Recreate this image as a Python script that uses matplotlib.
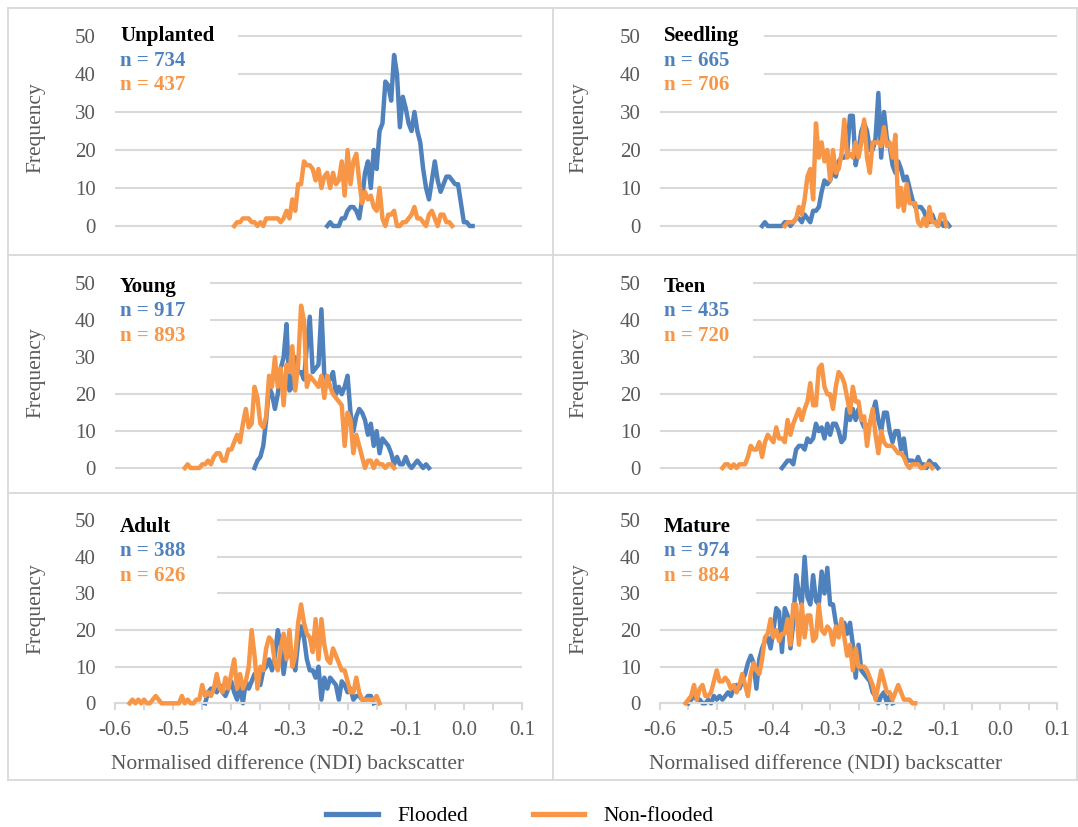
import numpy as np
import matplotlib
matplotlib.use('Agg')
import matplotlib.pyplot as plt
from matplotlib.lines import Line2D
from matplotlib.patches import Rectangle

plt.rcParams['font.family'] = ['Liberation Serif', 'DejaVu Serif']

# histogram counts of NDI backscatter, bin width 0.005, one list per class/series
bin_width = 0.005

unplanted_fl_start = -0.235
unplanted_fl = [0, 1, 0, 0, 0, 2, 2, 4, 5, 5, 4, 2, 7, 14, 17, 10, 20, 15, 25, 27,
                38, 37, 33, 45, 40, 26, 34, 31, 27, 25, 30, 25, 22, 15, 10, 7, 12, 17, 12, 9,
                11, 13, 13, 12, 11, 11, 6, 1, 1, 0, 0]
unplanted_nf_start = -0.395
unplanted_nf = [0, 1, 1, 2, 2, 2, 1, 1, 0, 1, 0, 2, 2, 2, 2, 2, 1, 2, 4, 2,
                7, 4, 11, 11, 17, 16, 16, 15, 12, 15, 10, 13, 14, 10, 14, 11, 12, 17, 8, 20,
                11, 17, 19, 12, 6, 9, 7, 8, 5, 4, 10, 2, 0, 3, 3, 4, 0, 0, 1, 1,
                2, 3, 5, 2, 2, 1, 0, 3, 4, 2, 0, 3, 3, 1, 1, 0]

seedling_fl_start = -0.42
seedling_fl = [0, 1, 0, 0, 0, 0, 0, 0, 1, 1, 0, 1, 2, 2, 1, 3, 2, 1, 4, 4,
               5, 9, 12, 11, 12, 15, 13, 17, 18, 18, 19, 29, 29, 16, 20, 25, 27, 25, 20, 20,
               23, 35, 18, 30, 23, 21, 16, 14, 17, 15, 12, 13, 10, 7, 5, 5, 5, 4, 2, 1,
               3, 1, 0, 1, 0, 1, 0]
seedling_nf_start = -0.38
seedling_nf = [0, 1, 1, 1, 2, 5, 3, 7, 13, 15, 7, 27, 18, 22, 17, 20, 12, 20, 14, 15,
               19, 28, 18, 19, 18, 22, 18, 22, 28, 18, 14, 22, 22, 22, 21, 26, 21, 22, 18, 24,
               5, 10, 4, 11, 6, 6, 6, 1, 0, 2, 0, 5, 1, 1, 0, 3, 3, 0]

young_fl_start = -0.36
young_fl = [0, 2, 3, 6, 13, 22, 20, 16, 20, 27, 30, 39, 21, 22, 30, 26, 26, 24, 33, 41,
            26, 27, 28, 43, 25, 24, 24, 26, 20, 22, 20, 22, 25, 15, 10, 14, 16, 15, 13, 9,
            12, 6, 10, 4, 8, 7, 6, 4, 1, 3, 1, 1, 3, 1, 0, 1, 2, 1, 0, 1, 0]
young_nf_start = -0.48
young_nf = [0, 1, 0, 0, 0, 0, 1, 1, 2, 1, 3, 4, 4, 2, 2, 5, 5, 7, 9, 7,
            12, 16, 11, 12, 22, 19, 12, 11, 14, 25, 22, 30, 22, 27, 17, 28, 26, 33, 21, 28,
            44, 40, 22, 25, 24, 23, 22, 25, 19, 25, 22, 20, 19, 18, 17, 6, 15, 13, 4, 9,
            6, 3, 0, 2, 2, 0, 2, 1, 1, 0, 1, 1, 0]

teen_fl_start = -0.385
teen_fl = [0, 1, 2, 2, 1, 5, 6, 6, 5, 8, 7, 8, 12, 10, 11, 8, 12, 9, 12, 12,
           10, 7, 8, 16, 13, 16, 13, 16, 13, 11, 11, 12, 15, 18, 13, 10, 15, 15, 10, 7,
           10, 10, 5, 8, 2, 2, 2, 1, 3, 1, 1, 0, 2, 1, 1, 0]
teen_nf_start = -0.49
teen_nf = [0, 1, 1, 0, 1, 0, 1, 1, 1, 3, 6, 5, 5, 7, 3, 7, 9, 8, 7, 11,
           8, 8, 7, 13, 9, 12, 14, 16, 13, 16, 18, 23, 17, 17, 27, 28, 22, 20, 20, 16,
           22, 26, 25, 23, 19, 15, 22, 18, 18, 13, 14, 6, 12, 16, 9, 4, 10, 7, 6, 6,
           6, 5, 4, 4, 3, 1, 0, 1, 1, 1, 0, 0, 1, 1, 0]

adult_fl_start = -0.445
adult_fl = [0, 3, 4, 4, 3, 5, 3, 2, 4, 6, 3, 1, 5, 0, 6, 4, 6, 8, 7, 5,
            9, 10, 12, 9, 13, 20, 16, 8, 14, 13, 13, 9, 17, 21, 18, 12, 9, 9, 7, 10,
            1, 7, 4, 7, 6, 5, 1, 6, 5, 3, 4, 1, 2, 2, 1, 1, 2, 2, 0]
adult_nf_start = -0.575
adult_nf = [0, 1, 0, 1, 0, 1, 0, 0, 1, 2, 1, 0, 0, 0, 0, 0, 0, 0, 2, 0,
            1, 0, 0, 1, 1, 5, 2, 3, 2, 4, 8, 4, 3, 7, 4, 8, 12, 4, 8, 4,
            6, 10, 20, 13, 4, 10, 9, 15, 18, 17, 11, 9, 15, 19, 12, 20, 10, 13, 22, 27,
            22, 19, 18, 14, 23, 12, 23, 16, 12, 11, 15, 13, 11, 9, 9, 6, 3, 3, 7, 3,
            1, 1, 1, 1, 1, 2, 0]

mature_fl_start = -0.55
mature_fl = [0, 1, 2, 1, 1, 0, 0, 1, 0, 2, 1, 2, 1, 2, 3, 2, 4, 5, 4, 6,
             8, 11, 13, 11, 4, 12, 15, 17, 18, 15, 20, 26, 25, 14, 26, 24, 15, 22, 35, 30,
             27, 40, 29, 27, 35, 28, 27, 36, 30, 37, 27, 27, 22, 19, 20, 22, 19, 22, 16, 7,
             16, 9, 8, 7, 6, 3, 2, 0, 2, 3, 0, 2, 0]
mature_nf_start = -0.555
mature_nf = [0, 1, 2, 5, 1, 4, 5, 2, 2, 3, 6, 9, 6, 6, 7, 6, 4, 5, 3, 5,
             8, 5, 2, 8, 11, 9, 8, 12, 18, 19, 23, 18, 20, 17, 19, 19, 23, 16, 27, 27,
             16, 27, 18, 24, 24, 17, 18, 27, 20, 19, 21, 20, 16, 21, 18, 23, 18, 13, 16, 9,
             15, 10, 10, 10, 9, 7, 5, 1, 5, 9, 6, 3, 3, 1, 3, 5, 3, 1, 1, 1, 0, 0]

panel_names = ['Unplanted', 'Seedling', 'Young', 'Teen', 'Adult', 'Mature']
n_flooded = [734, 665, 917, 435, 388, 974]
n_nonflooded = [437, 706, 893, 720, 626, 884]
flooded_series = [(unplanted_fl_start, unplanted_fl), (seedling_fl_start, seedling_fl),
                  (young_fl_start, young_fl), (teen_fl_start, teen_fl),
                  (adult_fl_start, adult_fl), (mature_fl_start, mature_fl)]
nonflooded_series = [(unplanted_nf_start, unplanted_nf), (seedling_nf_start, seedling_nf),
                     (young_nf_start, young_nf), (teen_nf_start, teen_nf),
                     (adult_nf_start, adult_nf), (mature_nf_start, mature_nf)]

BLUE = '#4F81BD'
ORANGE = '#F79646'
GRID = '#D9D9D9'
TXT = '#595959'
LW = 3.2

W, H = 1078, 827
fig = plt.figure(figsize=(W / 100, H / 100), dpi=100)

def px_rect(left, top, right, bottom):
    return [left / W, 1 - bottom / H, (right - left) / W, (bottom - top) / H]

# pixel rows of the 0 and 50 gridlines, and pixel columns of x = -0.6 / 0.1
row_px = [(226, 36), (468, 283.5), (703.3, 520.3)]
col_px = [(115, 522), (660, 1057)]
ylo, yhi = -1.5, 52
# per-panel white box behind the labels: right edge (data x), bottom (data y)
label_box = [(-0.388, 33), (-0.417, 33), (-0.437, 25), (-0.436, 25), (-0.424, 25), (-0.43, 25)]
# vertical offsets (px) of the label block for each row
row_dy = [0, -3.5, -6.7]
col_dx = [5, 4]

for i, name in enumerate(panel_names):
    r, c = divmod(i, 2)
    y0, y50 = row_px[r]
    unit = (y0 - y50) / 50
    x0, x1 = col_px[c]
    ax = fig.add_axes(px_rect(x0, y50 - (yhi - 50) * unit, x1, y0 - ylo * unit))
    ax.set_xlim(-0.6, 0.1)
    ax.set_ylim(ylo, yhi)
    ax.set_axisbelow(True)
    ax.set_yticks(np.arange(0, 51, 10))
    ax.yaxis.grid(True, color=GRID, lw=1.5)
    for s in ax.spines.values():
        s.set_visible(False)
    ax.tick_params(axis='y', length=0, pad=14, labelsize=15, labelcolor=TXT)

    fs, fv = flooded_series[i]
    ns, nv = nonflooded_series[i]
    ax.plot(fs + bin_width * np.arange(len(fv)), fv, color=BLUE, lw=LW, zorder=2,
            solid_joinstyle='round')
    ax.plot(ns + bin_width * np.arange(len(nv)), nv, color=ORANGE, lw=LW, zorder=3,
            solid_joinstyle='round')

    bx, by = label_box[i]
    ax.add_patch(Rectangle((-0.6, by), bx + 0.6, 54 - by, facecolor='white',
                           edgecolor='none', zorder=1, clip_on=False))

    dx, dy = col_dx[c], row_dy[r]
    for txt, col, off in [(name, 'black', 0), ('n = %d' % n_flooded[i], BLUE, -24.5),
                          ('n = %d' % n_nonflooded[i], ORANGE, -49)]:
        ax.annotate(txt, xy=(0, 50), xycoords=('axes fraction', 'data'),
                    xytext=(dx, dy + off), textcoords='offset pixels',
                    fontsize=15, fontweight='bold', color=col, ha='left', va='center',
                    zorder=4)

    ax.set_ylabel('Frequency', fontsize=15.5, color=TXT)
    ax.yaxis.label.set_va('center')
    ax.yaxis.set_label_coords(((36 if c == 0 else 579) - x0) / (x1 - x0), 0.51)

    if r == 2:
        ax.spines['bottom'].set_visible(True)
        ax.spines['bottom'].set_position(('data', 0))
        ax.spines['bottom'].set_color(GRID)
        ax.spines['bottom'].set_linewidth(1.5)
        ticks = np.round(np.arange(-0.6, 0.101, 0.05), 2)
        ax.set_xticks(ticks)
        ax.set_xticklabels(['%.1f' % t if abs(round(t * 10) - t * 10) < 1e-6 else ''
                            for t in ticks])
        ax.tick_params(axis='x', length=5, width=1.5, color=GRID, pad=8,
                       labelsize=15, labelcolor=TXT)
        ax.set_xlabel('Normalised difference (NDI) backscatter', fontsize=15.5, color=TXT)
        ax.xaxis.label.set_va('center')
        ax.xaxis.set_label_coords(0.425 if c == 0 else 0.416,
                                  (y0 - ylo * unit - 765) / ((yhi - ylo) * unit))
    else:
        ax.tick_params(axis='x', bottom=False, labelbottom=False)

# panel frame lines
def frame_line(xa, ya, xb, yb):
    fig.add_artist(Line2D([xa / W, xb / W], [1 - ya / H, 1 - yb / H],
                          transform=fig.transFigure, color=GRID, lw=1.3))

frame_line(8, 8, 1077, 8)
frame_line(8, 780, 1077, 780)
frame_line(8, 8, 8, 780)
frame_line(1077, 8, 1077, 780)
frame_line(553, 8, 553, 780)
frame_line(8, 255, 1077, 255)
frame_line(8, 493, 1077, 493)

handles = [Line2D([], [], color=BLUE, lw=3.8), Line2D([], [], color=ORANGE, lw=3.8)]
fig.legend(handles, ['Flooded', 'Non-flooded'], loc='center',
           bbox_to_anchor=(520 / W, 1 - 816 / H), ncol=2, frameon=False,
           fontsize=15.5, handlelength=2.4, handletextpad=0.9, columnspacing=3.0)

fig.savefig('out.png', dpi=100)
